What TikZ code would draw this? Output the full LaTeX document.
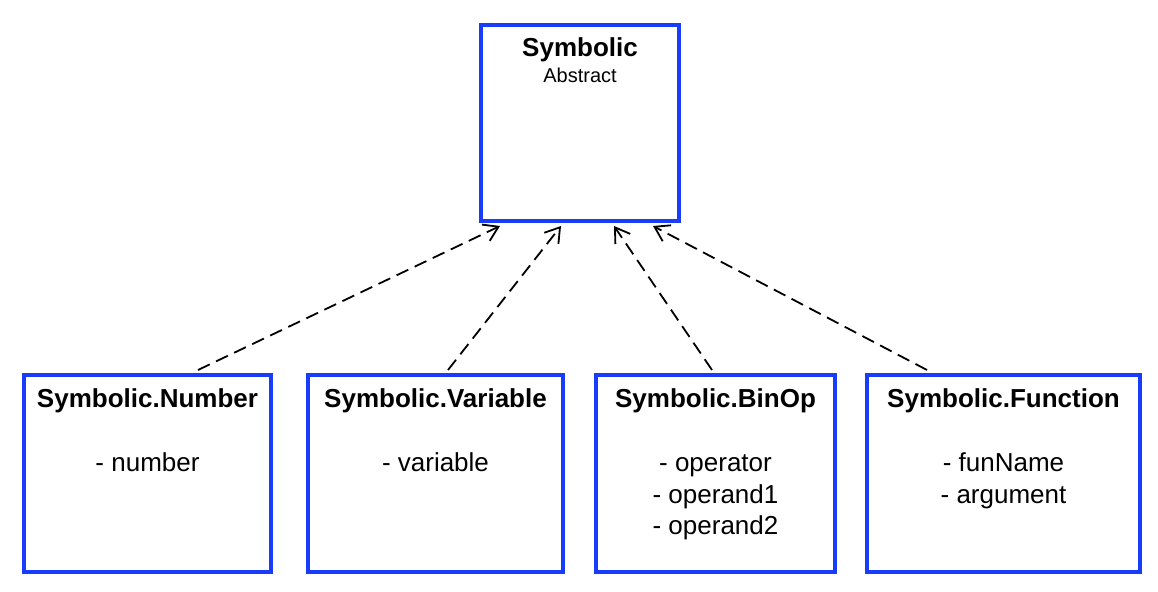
\documentclass[tikz,border=0pt]{standalone}
\usepackage{fontspec}
\setmainfont{Liberation Sans}
\usepackage{tikz}
\usetikzlibrary{shadows}
\usetikzlibrary{arrows.meta}
\definecolor{umlblue}{RGB}{25,60,250}

\begin{document}
\begin{tikzpicture}[x=0.5pt, y=-0.5pt,
    classbox/.style={draw=umlblue, line width=2pt, fill=white, inner sep=0pt,
        drop shadow={opacity=0.2, shadow xshift=1pt, shadow yshift=-1pt}},
    classname/.style={font=\fontsize{13}{15.75}\selectfont\bfseries, anchor=base, inner sep=0pt},
    members/.style={font=\fontsize{13}{15.75}\selectfont, anchor=base, align=center, inner sep=0pt},
    realizes/.style={line width=0.9pt, dash pattern=on 6.5pt off 3.5pt,
        -{Straight Barb[length=7pt, width=9pt, line width=0.9pt]}}]

    \useasboundingbox (0,0) rectangle (1158,592);

    % abstract parent
    \node[classbox, minimum width=99pt, minimum height=98pt] (sym) at (580,123) {};
    \node[classname] (symT) at ([yshift=-17pt]sym.north) {Symbolic};
    \node[members, font=\fontsize{10}{12}\selectfont] (symA) at ([yshift=-30pt]sym.north) {Abstract};

    % subclasses
    \node[classbox, minimum width=123.5pt, minimum height=98.5pt] (num) at (147.5,473.5) {};
    \node[classbox, minimum width=127.5pt, minimum height=98.5pt] (var) at (435.5,473.5) {};
    \node[classbox, minimum width=119.5pt, minimum height=98.5pt] (bin) at (715.5,473.5) {};
    \node[classbox, minimum width=136.5pt, minimum height=98.5pt] (fun) at (1003.5,473.5) {};

    \node[classname] (numT) at ([yshift=-17.5pt]num.north) {Symbolic.Number};
    \node[classname] (varT) at ([yshift=-17.5pt]var.north) {Symbolic.Variable};
    \node[classname] (binT) at ([yshift=-17.5pt]bin.north) {Symbolic.BinOp};
    \node[classname] (funT) at ([yshift=-17.5pt]fun.north) {Symbolic.Function};

    % base of a multi-line node is its last line
    \node[members] (numM) at ([yshift=-49.5pt]num.north) {- number};
    \node[members] (varM) at ([yshift=-49.5pt]var.north) {- variable};
    \node[members] (binM) at ([yshift=-81pt]bin.north) {- operator\\- operand1\\- operand2};
    \node[members] (funM) at ([yshift=-65.25pt]fun.north) {- funName\\- argument};

    % dashed arrows up to the parent
    \draw[realizes] ([xshift=25.25pt, yshift=1.5pt]num.north) -- ([xshift=-40pt, yshift=-1.5pt]sym.south);
    \draw[realizes] ([xshift=6.25pt, yshift=1.5pt]var.north) -- ([xshift=-9.5pt, yshift=-1.5pt]sym.south);
    \draw[realizes] ([xshift=-1.75pt, yshift=1.5pt]bin.north) -- ([xshift=17pt, yshift=-1.5pt]sym.south);
    \draw[realizes] ([xshift=-38.25pt, yshift=1.5pt]fun.north) -- ([xshift=36.5pt, yshift=-1.5pt]sym.south);

\end{tikzpicture}
\end{document}
